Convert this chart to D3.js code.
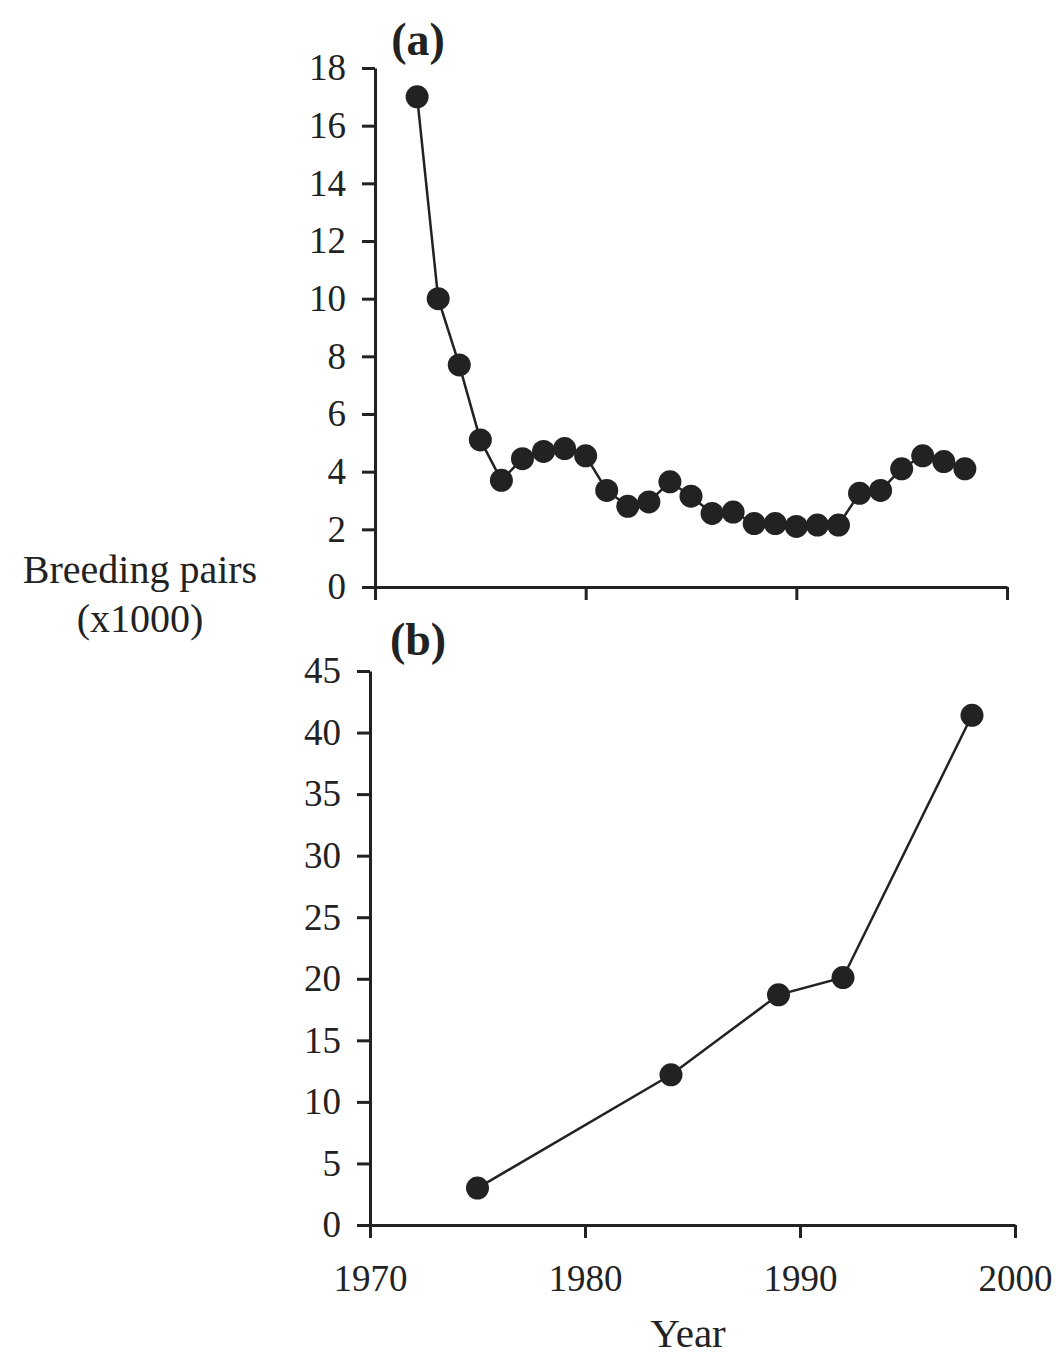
<!DOCTYPE html>
<html>
<head>
<meta charset="utf-8">
<script src="https://cdn.jsdelivr.net/npm/d3@7"></script>
<style>
body { margin: 0; background: #fff; }
text { font-family: "Liberation Serif", "DejaVu Serif", serif; fill: #222; }
</style>
</head>
<body>
<script>
var w = 1056;
var h = 1355;

// panel (a): breeding pairs per year
var yearsA = [1972,1973,1974,1975,1976,1977,1978,1979,1980,1981,1982,1983,1984,1985,
              1986,1987,1988,1989,1990,1991,1992,1993,1994,1995,1996,1997,1998];
var pairsA = [17.0,10.0,7.7,5.1,3.7,4.45,4.7,4.8,4.55,3.35,2.8,2.95,3.65,3.15,
              2.55,2.6,2.2,2.2,2.1,2.15,2.15,3.25,3.35,4.1,4.55,4.35,4.1];
var yTicksA = [0,2,4,6,8,10,12,14,16,18];

// panel (b)
var yearsB = [1975,1984,1989,1992,1998];
var pairsB = [3.0,12.2,18.7,20.1,41.4];
var yTicksB = [0,5,10,15,20,25,30,35,40,45];

var xTicks = [1970,1980,1990,2000];

var svg = d3.select("body").append("svg")
            .attr("width", w)
            .attr("height", h);

function panel(opt) {
  var x = d3.scaleLinear().domain([1970, 2000]).range([opt.x0, opt.x1]);
  var y = d3.scaleLinear().domain([0, opt.ymax]).range([opt.y0, opt.y1]);
  var g = svg.append("g");

  var ya = g.append("g")
    .attr("transform", "translate(" + opt.x0 + ",0)")
    .call(d3.axisLeft(y).tickValues(opt.yticks).tickSize(13).tickPadding(16).tickSizeOuter(0));
  var xa = g.append("g")
    .attr("transform", "translate(0," + opt.y0 + ")")
    .call(d3.axisBottom(x).tickValues(xTicks).tickSize(13).tickPadding(27)
          .tickSizeOuter(0).tickFormat(opt.xlabels ? d3.format("d") : ""));

  [ya, xa].forEach(function(a) {
    a.selectAll("path, line").attr("stroke", "#222").attr("stroke-width", 3);
    a.selectAll("text").attr("font-size", 37).attr("fill", "#222");
  });

  var line = d3.line()
    .x(function(d) { return x(d[0]); })
    .y(function(d) { return y(d[1]); });
  var pts = opt.years.map(function(v, i) { return [v, opt.vals[i]]; });

  g.append("path")
    .datum(pts)
    .attr("d", line)
    .attr("fill", "none")
    .attr("stroke", "#222")
    .attr("stroke-width", 2.5);

  g.selectAll("circle")
    .data(pts)
    .enter()
    .append("circle")
    .attr("cx", function(d) { return x(d[0]); })
    .attr("cy", function(d) { return y(d[1]); })
    .attr("r", 11.5)
    .attr("fill", "#222");

  g.append("text")
    .text(opt.label)
    .attr("x", 418)
    .attr("y", opt.labelY)
    .attr("text-anchor", "middle")
    .attr("font-size", 46)
    .attr("font-weight", "bold");
}

panel({ x0: 375, x1: 1007, y0: 587, y1: 68, ymax: 18, yticks: yTicksA,
        years: yearsA, vals: pairsA, label: "(a)", labelY: 55, xlabels: false });
panel({ x0: 370, x1: 1015, y0: 1225, y1: 671, ymax: 45, yticks: yTicksB,
        years: yearsB, vals: pairsB, label: "(b)", labelY: 655, xlabels: true });

svg.append("text")
  .attr("x", 140).attr("y", 583)
  .attr("text-anchor", "middle")
  .attr("font-size", 40)
  .text("Breeding pairs");
svg.append("text")
  .attr("x", 140).attr("y", 632)
  .attr("text-anchor", "middle")
  .attr("font-size", 40)
  .text("(x1000)");
svg.append("text")
  .attr("x", 688).attr("y", 1347)
  .attr("text-anchor", "middle")
  .attr("font-size", 41)
  .text("Year");
</script>
</body>
</html>
